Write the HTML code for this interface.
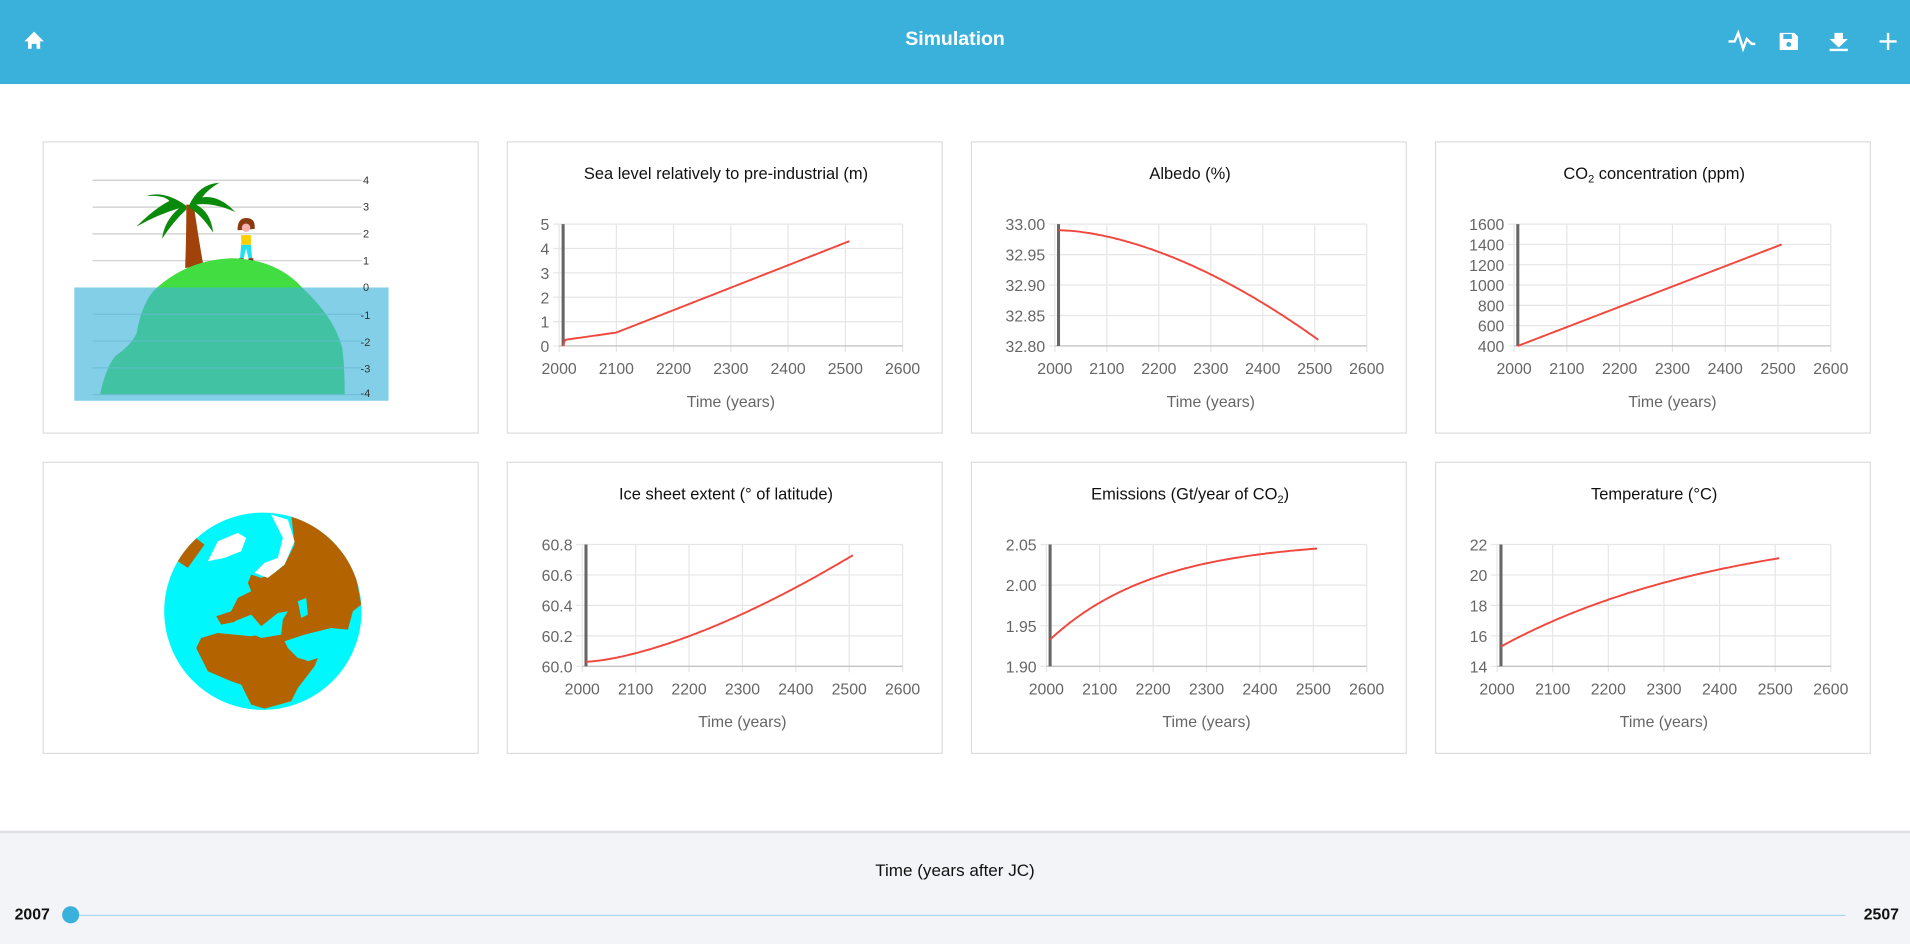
<!DOCTYPE html>
<html><head><meta charset="utf-8"><style>
html,body{margin:0;padding:0;background:#fff;overflow:hidden}
#w{width:1568px;height:775px;position:relative;transform:scale(1.21811);transform-origin:0 0;font-family:"Liberation Sans",sans-serif}
.hdr{position:absolute;left:0;top:0;width:1568px;height:69px;background:#39b1db}
.hdr .t{position:absolute;left:0;width:1568px;top:24px;text-align:center;color:#fff;font-weight:bold;font-size:16px}
.card{position:absolute;width:358px;height:240px;border:1px solid #ddd;background:#fff;box-sizing:border-box}
.bot{position:absolute;left:0;top:682px;width:1568px;height:93px;background:#f3f4f8;border-top:2px solid #e0e0e4}
svg text{font-family:"Liberation Sans",sans-serif}
</style></head><body><div id="w">
<div class="hdr"><div class="t">Simulation</div>
<svg width="1568" height="69" style="position:absolute;left:0;top:0">
<path d="M20 34 L28 26 L36 34 L33 34 L33 40 L30 40 L30 36 L26 36 L26 40 L23 40 L23 34 Z" fill="#fff"/>
<path d="M1419 34 L1424 34 L1427 27 L1431 40 L1434 32 L1438 36 L1441 36" stroke="#fff" stroke-width="2" fill="none"/>
<path d="M1461 27 H1473 L1476 30 V41 H1461 Z" fill="#fff"/><rect x="1464" y="28" width="7" height="4" fill="#39b1db"/><circle cx="1468.5" cy="36.5" r="2" fill="#39b1db"/>
<path d="M1506 27 H1513 V32 H1517 L1509.5 39 L1502 32 H1506 Z M1502 40 H1517 V42 H1502 Z" fill="#fff"/>
<path d="M1550 27 V41 M1543 34 H1557" stroke="#fff" stroke-width="2"/>
</svg></div>

<div class="card" style="left:35px;top:116px">
<svg width="358" height="240" style="position:absolute;left:-1px;top:-1px">
<g stroke="#ccc">
<line x1="41" y1="32" x2="262" y2="32"/><line x1="41" y1="54" x2="262" y2="54"/><line x1="41" y1="76" x2="262" y2="76"/><line x1="41" y1="98" x2="262" y2="98"/></g>
<path d="M117 104 Q118 75 118 52 L124 52 Q128 80 132 102 Z" fill="#a0420a"/>
<g fill="#0a8a0a">
<path d="M118 53 Q100 40 85 45 Q100 44 104 49 Q92 55 77 70 Q95 60 112 55 Q100 65 98 80 Q108 65 118 56 Z"/>
<path d="M120 53 Q128 35 145 34 Q135 40 131 46 Q145 44 158 58 Q140 50 126 52 Q138 58 140 75 Q130 60 121 55 Z"/>
</g>
<path d="M160 73 Q160 63 167 63 Q175 63 174 72 Z" fill="#8a3a10"/>
<circle cx="167" cy="71" r="3.5" fill="#f8b0b0"/>
<rect x="163" y="77" width="8" height="8" fill="#fcd000"/><path d="M163 85 H171 L172 96 H169 L167 88 L165 96 H162 Z" fill="#22e0ee"/>
<rect x="161" y="96" width="4" height="2" fill="#7a3010"/><rect x="169" y="96" width="4" height="2" fill="#7a3010"/>
<path d="M94 120 Q120 97 156 96 Q192 97 213 120 Z" fill="#41dd41"/>
<rect x="26" y="120" width="258" height="93" fill="#84cfe8"/>
<path d="M47 208 Q52 185 60 176 Q72 168 77 158 Q82 130 94 120 L213 120 Q240 145 246 170 Q248 185 248 208 Z" fill="#41c3a3"/>
<g stroke="#6ab9d2" stroke-opacity="0.7"><line x1="41" y1="142" x2="262" y2="142"/><line x1="41" y1="164" x2="262" y2="164"/><line x1="41" y1="186" x2="262" y2="186"/><line x1="41" y1="208" x2="262" y2="208"/></g>
<g font-family="Liberation Serif" font-size="9" fill="#333"><text x="263" y="35">4</text><text x="263" y="57">3</text><text x="263" y="79">2</text><text x="263" y="101">1</text><text x="263" y="123">0</text><text x="261" y="146">-1</text><text x="261" y="168">-2</text><text x="261" y="190">-3</text><text x="261" y="210">-4</text></g>
</svg></div>

<div class="card" style="left:35px;top:379px">
<svg width="358" height="240" style="position:absolute;left:-1px;top:-1px">
<clipPath id="cg"><circle cx="180.8" cy="122.8" r="81"/></clipPath>
<circle cx="180.8" cy="122.8" r="81" fill="#00f8fc"/>
<g clip-path="url(#cg)"><g transform="translate(89.1 32.5) scale(0.2737)">
<path fill="#b36400" d="M300 220 L290 245 L300 270 L260 290 L240 330 L195 345 L210 370 L260 360 L290 350 L320 400 L300 405 L200 395 L150 410 L135 440 L170 510 L240 540 L270 550 L300 610 L340 622 L420 600 L440 560 L490 495 L500 470 L470 480 L430 460 L400 420 L460 400 L540 380 L590 385 L605 330 L630 310 L610 200 L560 110 L470 55 L420 40 L430 130 L400 190 L370 215 L330 230 Z"/>
<path fill="#00f8fc" d="M250 360 L300 340 L330 375 L380 335 L410 330 L395 355 L390 400 L330 410 L290 392 Z"/>
<path fill="#00f8fc" d="M400 420 L430 440 L460 475 L440 470 L410 440 Z"/>
<path fill="#00f8fc" d="M440 300 L465 290 L470 340 L450 350 Z"/>
<path fill="#b36400" d="M80 180 L120 100 L160 130 L110 200 Z"/>
<path fill="#fff" d="M360 40 L410 55 L430 120 L400 190 L350 230 L310 215 L340 185 L380 170 L395 110 Z"/>
<path fill="#fff" d="M170 180 L200 120 L260 95 L285 110 L270 150 L220 170 Z"/>
</g></g>
</svg></div>

<div id="charts"></div>

<div class="bot">
<div style="position:absolute;left:0;width:1568px;top:22px;text-align:center;font-size:14px;color:#111">Time (years after JC)</div>
<div style="position:absolute;left:12px;top:59px;font-size:13px;font-weight:bold;color:#111">2007</div>
<div style="position:absolute;left:1530px;top:59px;font-size:13px;font-weight:bold;color:#111">2507</div>
<div style="position:absolute;left:58px;top:67px;width:1457px;height:1px;background:#a8d4ee"></div>
<div style="position:absolute;left:51px;top:60px;width:14px;height:14px;border-radius:50%;background:#39b1db"></div>
</div>
</div>
<script>
const C=[
{x:416,y:116,t:'Sea level relatively to pre-industrial (m)',px:459,ymin:0,ymax:5,st:1,dec:0,f:function(yr){if(yr<2010)return (yr-2007)/3*0.25;if(yr<2100)return 0.25+(yr-2010)/90*0.3;return 0.55+(yr-2100)/407*3.75;}},
{x:797,y:116,t:'Albedo (%)',px:866,ymin:32.8,ymax:33,st:0.05,dec:2,f:function(yr){let t=(yr-2007)/500;return 32.99-0.18*Math.pow(t,1.7);}},
{x:1178,y:116,t:'CO<tspan font-size="9" dy="3">2</tspan><tspan dy="-3"> concentration (ppm)</tspan>',px:1243,ymin:400,ymax:1600,st:200,dec:0,f:function(yr){return 400+(yr-2007)*2;}},
{x:416,y:379,t:'Ice sheet extent (° of latitude)',px:478,ymin:60,ymax:60.8,st:0.2,dec:1,f:function(yr){let t=(yr-2007)/500;return 60.03+0.7*Math.pow(t,1.5);}},
{x:797,y:379,t:'Emissions (Gt/year of CO<tspan font-size="9" dy="3">2</tspan><tspan dy="-3">)</tspan>',px:859,ymin:1.9,ymax:2.05,st:0.05,dec:2,f:function(yr){let t=(yr-2007)/500;return 1.933+0.112*(1-Math.exp(-2.5*t))/(1-Math.exp(-2.5));}},
{x:1178,y:379,t:'Temperature (°C)',px:1229,ymin:14,ymax:22,st:2,dec:0,f:function(yr){let t=(yr-2007)/500;return 15.3+5.8*(1-Math.exp(-1.2*t))/(1-Math.exp(-1.2));}}
];
let h='';
C.forEach(c=>{
 const L=c.px-c.x, R=741-416, T=68, B=168;
 const X=yr=>L+(yr-2000)/600*(R-L), Y=v=>B-(v-c.ymin)/(c.ymax-c.ymin)*(B-T);
 let s=`<div class="card" style="left:${c.x}px;top:${c.y}px"><svg width="360" height="242" style="position:absolute;left:-1px;top:-1px">`;
 s+=`<text x="180" y="31" text-anchor="middle" font-size="13.5" fill="#111">${c.t}</text>`;
 for(let yr=2000;yr<=2600;yr+=100){s+=`<line x1="${X(yr)}" y1="${T}" x2="${X(yr)}" y2="${B+5}" stroke="#e6e6e6"/><text x="${X(yr)}" y="${B+23}" text-anchor="middle" font-size="13" fill="#666">${yr}</text>`;}
 for(let v=c.ymin;v<=c.ymax+1e-9;v+=c.st){s+=`<line x1="${L-5}" y1="${Y(v)}" x2="${R}" y2="${Y(v)}" stroke="#e6e6e6"/><text x="${L-8}" y="${Y(v)+5}" text-anchor="end" font-size="13" fill="#666">${v.toFixed(c.dec)}</text>`;}
 s+=`<line x1="${L}" y1="${B}" x2="${R}" y2="${B}" stroke="#bbb"/>`;
 s+=`<line x1="${X(2007)}" y1="${T}" x2="${X(2007)}" y2="${B}" stroke="#666" stroke-width="2.5"/>`;
 let p='';for(let yr=2007;yr<=2507;yr+=2){p+=(p?'L':'M')+X(yr).toFixed(1)+' '+Y(c.f(yr)).toFixed(1);}
 s+=`<path d="${p}" stroke="#f0483e" stroke-width="1.6" fill="none"/>`;
 s+=`<text x="${(L+R)/2}" y="${B+50}" text-anchor="middle" font-size="13" fill="#666">Time (years)</text>`;
 s+='</svg></div>';h+=s;});
document.getElementById('charts').innerHTML=h;
</script>
</body></html>
